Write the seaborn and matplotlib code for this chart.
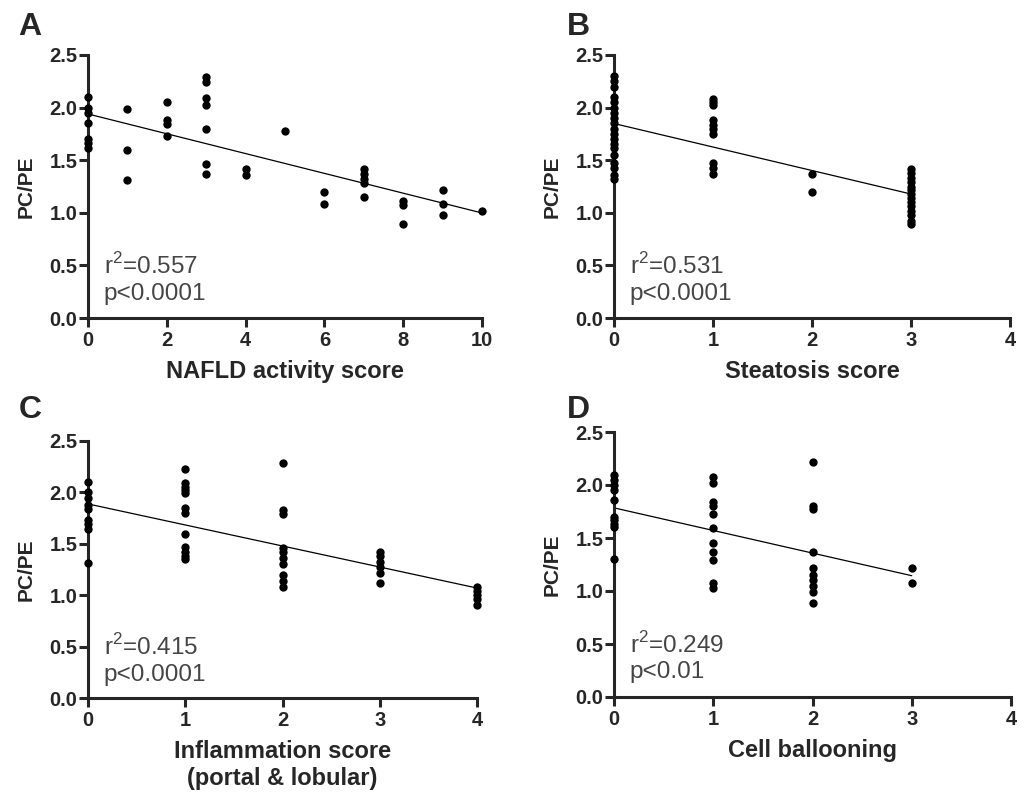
import numpy as np
import pandas as pd
import matplotlib
matplotlib.use("Agg")
import matplotlib.pyplot as plt
import seaborn as sns

# PC/PE ratio grouped by histological score
nas_scores = [0, 1, 2, 3, 4, 5, 6, 7, 8, 9, 10]
nas_values = [
    [2.10, 2.00, 1.95, 1.85, 1.70, 1.66, 1.62],
    [1.99, 1.60, 1.31],
    [2.05, 1.88, 1.84, 1.73],
    [2.29, 2.24, 2.09, 2.02, 1.80, 1.46, 1.37],
    [1.42, 1.36],
    [1.78],
    [1.20, 1.08],
    [1.42, 1.37, 1.32, 1.28, 1.15],
    [1.11, 1.07, 0.89],
    [1.22, 1.08, 0.98],
    [1.02],
]

steatosis_scores = [0, 1, 2, 3]
steatosis_values = [
    [2.30, 2.25, 2.20, 2.10, 2.05, 2.00, 1.95, 1.90, 1.85, 1.80,
     1.75, 1.70, 1.65, 1.62, 1.55, 1.47, 1.43, 1.36, 1.32],
    [2.08, 2.05, 2.02, 1.88, 1.83, 1.80, 1.75, 1.47, 1.43, 1.37],
    [1.37, 1.20],
    [1.42, 1.38, 1.33, 1.29, 1.25, 1.22, 1.18, 1.14, 1.10, 1.06,
     1.02, 0.98, 0.92, 0.89],
]

inflammation_scores = [0, 1, 2, 3, 4]
inflammation_values = [
    [2.10, 2.00, 1.95, 1.88, 1.84, 1.73, 1.69, 1.64, 1.31],
    [2.23, 2.09, 2.05, 2.02, 1.99, 1.85, 1.80, 1.60, 1.47, 1.42, 1.38, 1.35],
    [2.29, 1.83, 1.79, 1.46, 1.42, 1.36, 1.30, 1.20, 1.14, 1.08],
    [1.42, 1.38, 1.32, 1.27, 1.22, 1.12],
    [1.08, 1.04, 1.00, 0.96, 0.90],
]

ballooning_scores = [0, 1, 2, 3]
ballooning_values = [
    [2.09, 2.05, 2.00, 1.95, 1.86, 1.70, 1.67, 1.63, 1.60, 1.30],
    [2.08, 2.02, 1.84, 1.80, 1.73, 1.59, 1.45, 1.37, 1.29, 1.08, 1.03],
    [2.22, 1.80, 1.77, 1.37, 1.22, 1.15, 1.10, 1.05, 0.99, 0.89],
    [1.22, 1.08],
]

panel_letters = ["A", "B", "C", "D"]
x_labels = ["NAFLD activity score", "Steatosis score",
            "Inflammation score\n(portal & lobular)", "Cell ballooning"]
y_label = "PC/PE"
stats_text = [r"r$^\mathregular{2}$=0.557" + "\np<0.0001",
              r"r$^\mathregular{2}$=0.531" + "\np<0.0001",
              r"r$^\mathregular{2}$=0.415" + "\np<0.0001",
              r"r$^\mathregular{2}$=0.249" + "\np<0.01"]
x_ticks = [[0, 2, 4, 6, 8, 10], [0, 1, 2, 3, 4], [0, 1, 2, 3, 4], [0, 1, 2, 3, 4]]
y_ticks = [0.0, 0.5, 1.0, 1.5, 2.0, 2.5]


def to_frame(scores, groups):
    rows = [(s, v) for s, vals in zip(scores, groups) for v in vals]
    return pd.DataFrame(rows, columns=["score", "ratio"])


frames = [
    to_frame(nas_scores, nas_values),
    to_frame(steatosis_scores, steatosis_values),
    to_frame(inflammation_scores, inflammation_values),
    to_frame(ballooning_scores, ballooning_values),
]

sns.set_style("ticks")
plt.rcParams["font.family"] = ["Liberation Sans", "DejaVu Sans"]
plt.rcParams["mathtext.fontset"] = "custom"
plt.rcParams["mathtext.rm"] = "Liberation Sans"

W, H = 1024, 802
fig = plt.figure(figsize=(W / 100, H / 100), dpi=100)

# axes boxes in pixels: left, right, top, bottom
boxes = [(88, 482, 55, 318), (614, 1010, 55, 318),
         (88, 477, 441, 698), (614, 1011, 432, 697)]
# panel letter centres in pixels
letter_pos = [(30, 27), (578, 27), (30, 410), (578, 410)]

for i, (df, box) in enumerate(zip(frames, boxes)):
    l, r, t, b = box
    w_px, h_px = r - l, b - t
    ax = fig.add_axes([l / W, 1 - b / H, w_px / W, h_px / H])
    sns.regplot(data=df, x="score", y="ratio", ax=ax, ci=None,
                scatter_kws=dict(s=36, color="black", alpha=1, linewidths=0,
                                 clip_on=False, zorder=3),
                line_kws=dict(color="black", lw=0.9, zorder=2))
    ax.set_xlim(0, x_ticks[i][-1])
    ax.set_ylim(0, 2.5)
    ax.set_xticks(x_ticks[i])
    ax.set_yticks(y_ticks)
    ax.set_yticklabels([f"{v:.1f}" for v in y_ticks])
    sns.despine(ax=ax)
    for s in ("left", "bottom"):
        ax.spines[s].set_linewidth(2.2)
    ax.tick_params(direction="out", length=6.5, width=2.2, labelsize=14.5)
    ax.tick_params(axis="x", pad=3)
    ax.tick_params(axis="y", pad=1)
    for lab in ax.get_xticklabels() + ax.get_yticklabels():
        lab.set_fontweight("bold")
    ax.set_xlabel(x_labels[i], fontsize=17, fontweight="bold",
                  linespacing=1.25, va="top")
    ax.set_ylabel(y_label, fontsize=15, fontweight="bold")
    ax.xaxis.set_label_coords(0.5, -42 / h_px)
    ax.yaxis.set_label_coords(-52 / w_px, 0.5)
    ax.text(0.04, 0.148, stats_text[i], transform=ax.transAxes,
            fontsize=17.5, color="#454545", va="center", ha="left",
            linespacing=1.2)
    lx, ly = letter_pos[i]
    fig.text(lx / W, 1 - ly / H, panel_letters[i],
             fontsize=23, fontweight="bold", ha="center", va="center")

fig.savefig("out.png", dpi=100)
